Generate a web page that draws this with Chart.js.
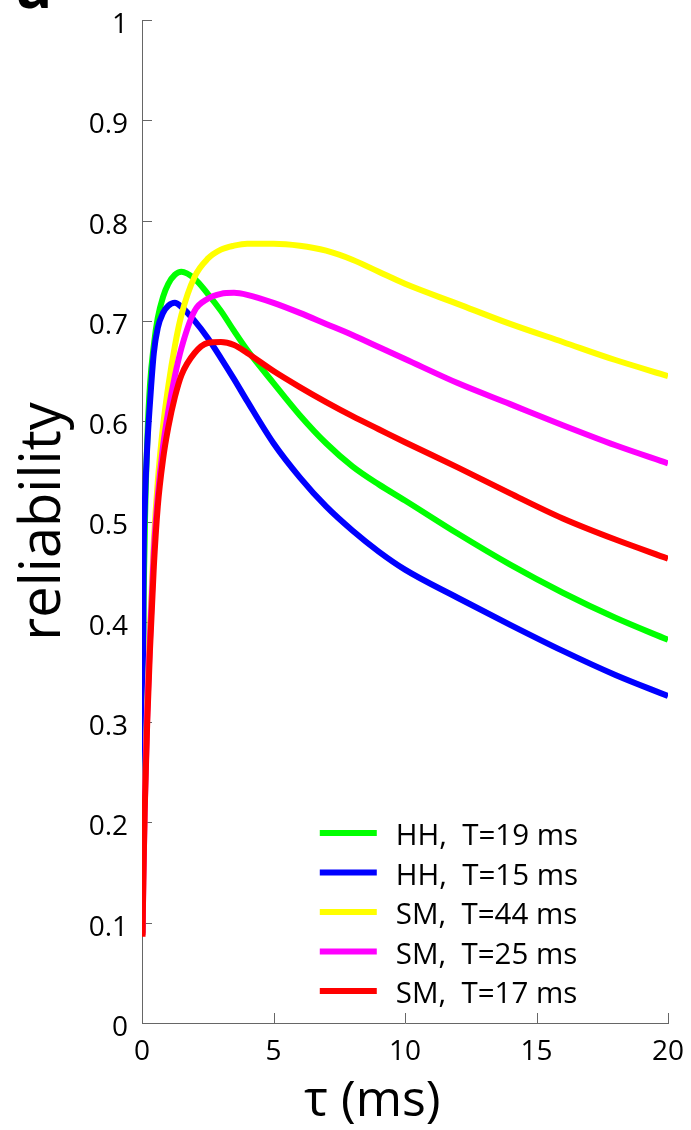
<!DOCTYPE html>
<html><head><meta charset="utf-8">
<script src="https://cdn.jsdelivr.net/npm/chart.js@4.4.0/dist/chart.umd.min.js"></script>
<style>html,body{margin:0;padding:0;background:#fff;} #wrap{position:relative;width:691px;height:1130px;}</style>
</head><body><div id="wrap"><canvas id="c" width="691" height="1130"></canvas></div>
<script>
const tau = [0.02,0.05,0.1,0.2,0.3,0.45,0.6,0.8,1,1.25,1.5,2,2.5,3,3.5,4,5,6,7,8,9,10,12,14,16,18,20];
const hhT19 = [0.09,0.36,0.48,0.58,0.635,0.676,0.703,0.724,0.737,0.746,0.749,0.742,0.727,0.710,0.690,0.671,0.638,0.606,0.578,0.555,0.537,0.521,0.488,0.457,0.429,0.404,0.382];
const hhT15 = [0.09,0.42,0.51,0.575,0.617,0.668,0.693,0.708,0.715,0.718,0.714,0.700,0.683,0.663,0.642,0.620,0.578,0.544,0.515,0.491,0.470,0.452,0.424,0.397,0.371,0.347,0.326];
const smT44 = [0.088,0.15,0.22,0.32,0.39,0.48,0.54,0.595,0.635,0.675,0.706,0.744,0.762,0.771,0.775,0.777,0.777,0.775,0.770,0.761,0.749,0.737,0.717,0.697,0.679,0.661,0.645];
const smT25 = [0.088,0.14,0.21,0.31,0.38,0.47,0.525,0.575,0.610,0.645,0.673,0.710,0.722,0.727,0.728,0.726,0.718,0.708,0.697,0.686,0.674,0.662,0.638,0.617,0.596,0.576,0.558];
const smT17 = [0.086,0.14,0.21,0.30,0.37,0.455,0.515,0.562,0.594,0.624,0.646,0.668,0.678,0.679,0.676,0.668,0.650,0.634,0.619,0.605,0.592,0.579,0.554,0.528,0.503,0.482,0.463];

const seriesLabels = ['HH,  T=19 ms','HH,  T=15 ms','SM,  T=44 ms','SM,  T=25 ms','SM,  T=17 ms'];
const seriesColors = ['#00ff00','#0000ff','#ffff00','#ff00ff','#ff0000'];
const seriesValues = [hhT19, hhT15, smT44, smT25, smT17];
const xTickLabels = ['0','5','10','15','20'];
const yTickLabels = ['0','0.1','0.2','0.3','0.4','0.5','0.6','0.7','0.8','0.9','1'];
const xTitle = 'τ (ms)';
const yTitle = 'reliability';
const panelLetter = 'a';

const FONT = "'Open Sans', sans-serif";

const datasets = seriesValues.map((vals, i) => ({
  label: seriesLabels[i],
  data: tau.map((t, j) => ({x: t, y: vals[j]})),
  borderColor: seriesColors[i],
  backgroundColor: seriesColors[i],
  borderWidth: 6,
  pointRadius: 0,
  fill: false,
  cubicInterpolationMode: 'monotone',
  order: seriesValues.length - i
}));

const decor = {
  id: 'decor',
  beforeDatasetsDraw(chart) {
    const {ctx, chartArea: a, scales: {x, y}} = chart;
    ctx.save();
    ctx.strokeStyle = '#666';
    ctx.lineWidth = 1;
    ctx.beginPath();
    y.ticks.forEach(t => {
      const py = Math.round(y.getPixelForValue(t.value)) + 0.5;
      ctx.moveTo(a.left, py); ctx.lineTo(a.left + 10, py);
    });
    x.ticks.forEach(t => {
      const px = Math.round(x.getPixelForValue(t.value)) + 0.5;
      ctx.moveTo(px, a.bottom); ctx.lineTo(px, a.bottom - 10);
    });
    ctx.stroke();
    ctx.restore();
  },
  afterDraw(chart) {
    const {ctx, chartArea: a} = chart;
    const w = a.right - a.left;
    ctx.save();
    // legend
    const lx = a.left + 0.338 * w;
    const ly0 = a.bottom - 190;
    const step = 39.5;
    ctx.font = "29.5px " + FONT;
    ctx.textBaseline = 'alphabetic';
    ctx.textAlign = 'left';
    chart.data.datasets.forEach((ds, i) => {
      const yy = ly0 + i * step;
      ctx.strokeStyle = ds.borderColor;
      ctx.lineWidth = 6;
      ctx.beginPath();
      ctx.moveTo(lx, yy); ctx.lineTo(lx + 57, yy);
      ctx.stroke();
      ctx.fillStyle = '#000';
      ctx.fillText(ds.label, lx + 76, yy + 12);
    });
    // x title
    ctx.font = "50px " + FONT;
    ctx.textAlign = 'center';
    ctx.fillText(xTitle, a.left + 0.438 * w, a.bottom + 93);
    // panel letter
    ctx.font = "bold 60px " + FONT;
    ctx.textAlign = 'left';
    ctx.fillText(panelLetter, 16, 8);
    ctx.restore();
  }
};

new Chart(document.getElementById('c'), {
  type: 'line',
  data: {datasets},
  plugins: [decor],
  options: {
    responsive: false,
    devicePixelRatio: 1,
    animation: false,
    layout: {padding: {top: 20, right: 23, left: 0, bottom: 0}},
    plugins: {legend: {display: false}, tooltip: {enabled: false}},
    scales: {
      x: {
        type: 'linear', min: 0, max: 20,
        afterFit(s) { s.height = 107; s.paddingLeft = 0; s.paddingRight = 0; },
        grid: {display: false, drawTicks: false},
        border: {display: true, color: '#666', width: 1},
        ticks: {
          stepSize: 5, padding: 12, color: '#000',
          font: {family: FONT, size: 28},
          callback: (v, i) => xTickLabels[i]
        }
      },
      y: {
        type: 'linear', min: 0, max: 1,
        afterFit(s) { s.width = 142; s.paddingTop = 0; s.paddingBottom = 0; },
        grid: {display: false, drawTicks: false},
        border: {display: true, color: '#666', width: 1},
        ticks: {
          stepSize: 0.1, padding: 14, color: '#000', labelOffset: 5,
          font: {family: FONT, size: 28},
          callback: (v, i) => yTickLabels[i]
        },
        title: {
          display: true, text: yTitle, color: '#000',
          font: {family: FONT, size: 56},
          padding: {top: 10, bottom: 0}
        }
      }
    }
  }
});
</script></body></html>
